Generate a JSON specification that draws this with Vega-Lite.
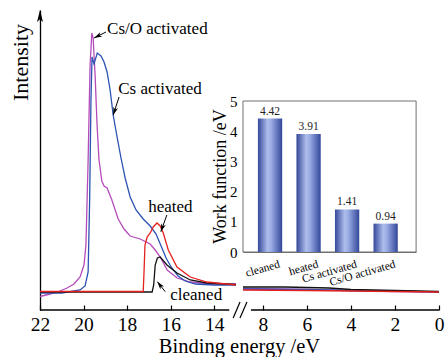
{
  "$schema": "https://vega.github.io/schema/vega-lite/v6.json",
  "width": 400,
  "height": 300,
  "autosize": {"type": "none"},
  "padding": {"left": 40, "top": 10, "right": 5, "bottom": 47},
  "background": "white",
  "config": {
    "view": {"stroke": null},
    "font": "Liberation Serif",
    "axis": {"grid": false, "titleFontWeight": "normal"}
  },
  "layer": [
    {
      "encoding": {
        "x": {
          "field": "E", "type": "quantitative",
          "scale": {"type": "linear", "domain": [22, 13, 8.9, 0], "range": [0, 196, 203, 399], "nice": false, "zero": false},
          "axis": {
            "values": [22, 20, 18, 16, 14, 8, 6, 4, 2, 0], "format": "d",
            "domain": false, "tickSize": -5, "tickColor": "black", "tickWidth": 1.2,
            "labelFontSize": 19.5, "labelColor": "black", "labelPadding": 25, "labelBaseline": "alphabetic",
            "labelFlush": false, "labelOverlap": false,
            "title": "Binding energy /eV", "titleFontSize": 20.5, "titleColor": "black",
            "titleX": 199, "titleY": 42, "titleBaseline": "alphabetic", "titleAlign": "center"
          }
        },
        "y": {
          "field": "I", "type": "quantitative",
          "scale": {"domain": [0, 300], "nice": false, "zero": false},
          "axis": {
            "domain": true, "domainColor": "black", "domainWidth": 1.3, "ticks": false, "labels": false,
            "title": "Intensity", "titleFontSize": 22, "titleColor": "black",
            "titleX": -19.5, "titleY": 52, "titleBaseline": "middle", "titleAlign": "center"
          }
        }
      },
      "layer": [
        {
          "data": {"values": [{"E": 8.9, "E2": 1.04, "I": 58, "I2": 209}]},
          "mark": {"type": "rect", "fill": "white", "stroke": "#707070", "strokeWidth": 1},
          "encoding": {"x2": {"field": "E2"}, "y2": {"field": "I2"}}
        },
        {
          "data": {"values": [
            {"s": "Cs/O activated", "seg": "a", "E": 22.0, "I": 13.5},
            {"s": "Cs/O activated", "seg": "a", "E": 21.54, "I": 16},
            {"s": "Cs/O activated", "seg": "a", "E": 21.08, "I": 19},
            {"s": "Cs/O activated", "seg": "a", "E": 20.76, "I": 22},
            {"s": "Cs/O activated", "seg": "a", "E": 20.44, "I": 26},
            {"s": "Cs/O activated", "seg": "a", "E": 20.16, "I": 33},
            {"s": "Cs/O activated", "seg": "a", "E": 19.98, "I": 45},
            {"s": "Cs/O activated", "seg": "a", "E": 19.89, "I": 65},
            {"s": "Cs/O activated", "seg": "a", "E": 19.79, "I": 150},
            {"s": "Cs/O activated", "seg": "a", "E": 19.70, "I": 245},
            {"s": "Cs/O activated", "seg": "a", "E": 19.62, "I": 277},
            {"s": "Cs/O activated", "seg": "a", "E": 19.56, "I": 272},
            {"s": "Cs/O activated", "seg": "a", "E": 19.47, "I": 235},
            {"s": "Cs/O activated", "seg": "a", "E": 19.38, "I": 185},
            {"s": "Cs/O activated", "seg": "a", "E": 19.29, "I": 150},
            {"s": "Cs/O activated", "seg": "a", "E": 19.16, "I": 129},
            {"s": "Cs/O activated", "seg": "a", "E": 19.06, "I": 124},
            {"s": "Cs/O activated", "seg": "a", "E": 18.92, "I": 122},
            {"s": "Cs/O activated", "seg": "a", "E": 18.70, "I": 110},
            {"s": "Cs/O activated", "seg": "a", "E": 18.41, "I": 91},
            {"s": "Cs/O activated", "seg": "a", "E": 18.14, "I": 81},
            {"s": "Cs/O activated", "seg": "a", "E": 17.86, "I": 74},
            {"s": "Cs/O activated", "seg": "a", "E": 17.40, "I": 71},
            {"s": "Cs/O activated", "seg": "a", "E": 16.94, "I": 66},
            {"s": "Cs/O activated", "seg": "a", "E": 16.71, "I": 60},
            {"s": "Cs/O activated", "seg": "a", "E": 16.48, "I": 53},
            {"s": "Cs/O activated", "seg": "a", "E": 16.16, "I": 40},
            {"s": "Cs/O activated", "seg": "a", "E": 15.70, "I": 32},
            {"s": "Cs/O activated", "seg": "a", "E": 15.10, "I": 28},
            {"s": "Cs/O activated", "seg": "a", "E": 14.18, "I": 26},
            {"s": "Cs/O activated", "seg": "a", "E": 13.0, "I": 26},
            {"s": "Cs/O activated", "seg": "b", "E": 8.9, "I": 21.5},
            {"s": "Cs/O activated", "seg": "b", "E": 6, "I": 20.5},
            {"s": "Cs/O activated", "seg": "b", "E": 4, "I": 19.5},
            {"s": "Cs/O activated", "seg": "b", "E": 2, "I": 18.5},
            {"s": "Cs/O activated", "seg": "b", "E": 0, "I": 18},

            {"s": "Cs activated", "seg": "a", "E": 22.0, "I": 17},
            {"s": "Cs activated", "seg": "a", "E": 21.0, "I": 17},
            {"s": "Cs activated", "seg": "a", "E": 20.16, "I": 20},
            {"s": "Cs activated", "seg": "a", "E": 19.93, "I": 24},
            {"s": "Cs activated", "seg": "a", "E": 19.79, "I": 38},
            {"s": "Cs activated", "seg": "a", "E": 19.72, "I": 110},
            {"s": "Cs activated", "seg": "a", "E": 19.66, "I": 210},
            {"s": "Cs activated", "seg": "a", "E": 19.61, "I": 253},
            {"s": "Cs activated", "seg": "a", "E": 19.52, "I": 246},
            {"s": "Cs activated", "seg": "a", "E": 19.37, "I": 257},
            {"s": "Cs activated", "seg": "a", "E": 19.20, "I": 254},
            {"s": "Cs activated", "seg": "a", "E": 19.06, "I": 248},
            {"s": "Cs activated", "seg": "a", "E": 18.92, "I": 238},
            {"s": "Cs activated", "seg": "a", "E": 18.78, "I": 220},
            {"s": "Cs activated", "seg": "a", "E": 18.64, "I": 195},
            {"s": "Cs activated", "seg": "a", "E": 18.46, "I": 173},
            {"s": "Cs activated", "seg": "a", "E": 18.28, "I": 152},
            {"s": "Cs activated", "seg": "a", "E": 18.09, "I": 132},
            {"s": "Cs activated", "seg": "a", "E": 17.86, "I": 113},
            {"s": "Cs activated", "seg": "a", "E": 17.59, "I": 100},
            {"s": "Cs activated", "seg": "a", "E": 17.26, "I": 91},
            {"s": "Cs activated", "seg": "a", "E": 16.94, "I": 84},
            {"s": "Cs activated", "seg": "a", "E": 16.67, "I": 76},
            {"s": "Cs activated", "seg": "a", "E": 16.44, "I": 64},
            {"s": "Cs activated", "seg": "a", "E": 16.21, "I": 52},
            {"s": "Cs activated", "seg": "a", "E": 15.98, "I": 43},
            {"s": "Cs activated", "seg": "a", "E": 15.66, "I": 34},
            {"s": "Cs activated", "seg": "a", "E": 15.33, "I": 29},
            {"s": "Cs activated", "seg": "a", "E": 14.87, "I": 26},
            {"s": "Cs activated", "seg": "a", "E": 14.0, "I": 25},
            {"s": "Cs activated", "seg": "a", "E": 13.0, "I": 25},
            {"s": "Cs activated", "seg": "b", "E": 8.9, "I": 21},
            {"s": "Cs activated", "seg": "b", "E": 6, "I": 20.5},
            {"s": "Cs activated", "seg": "b", "E": 4, "I": 19.5},
            {"s": "Cs activated", "seg": "b", "E": 2, "I": 19},
            {"s": "Cs activated", "seg": "b", "E": 0, "I": 18},

            {"s": "cleaned", "seg": "a", "E": 22.0, "I": 18},
            {"s": "cleaned", "seg": "a", "E": 16.85, "I": 18},
            {"s": "cleaned", "seg": "a", "E": 16.78, "I": 25},
            {"s": "cleaned", "seg": "a", "E": 16.71, "I": 45},
            {"s": "cleaned", "seg": "a", "E": 16.61, "I": 52},
            {"s": "cleaned", "seg": "a", "E": 16.48, "I": 53},
            {"s": "cleaned", "seg": "a", "E": 16.17, "I": 45},
            {"s": "cleaned", "seg": "a", "E": 15.71, "I": 37},
            {"s": "cleaned", "seg": "a", "E": 15.10, "I": 30},
            {"s": "cleaned", "seg": "a", "E": 14.34, "I": 27},
            {"s": "cleaned", "seg": "a", "E": 13.0, "I": 25.5},
            {"s": "cleaned", "seg": "b", "E": 8.9, "I": 23},
            {"s": "cleaned", "seg": "b", "E": 7, "I": 23},
            {"s": "cleaned", "seg": "b", "E": 5, "I": 22},
            {"s": "cleaned", "seg": "b", "E": 4, "I": 20.5},
            {"s": "cleaned", "seg": "b", "E": 2, "I": 19.5},
            {"s": "cleaned", "seg": "b", "E": 0, "I": 18.5},

            {"s": "heated", "seg": "a", "E": 22.0, "I": 18.5},
            {"s": "heated", "seg": "a", "E": 17.26, "I": 18.5},
            {"s": "heated", "seg": "a", "E": 17.22, "I": 40},
            {"s": "heated", "seg": "a", "E": 17.18, "I": 65},
            {"s": "heated", "seg": "a", "E": 17.08, "I": 73},
            {"s": "heated", "seg": "a", "E": 16.94, "I": 77},
            {"s": "heated", "seg": "a", "E": 16.80, "I": 83},
            {"s": "heated", "seg": "a", "E": 16.63, "I": 87},
            {"s": "heated", "seg": "a", "E": 16.48, "I": 84},
            {"s": "heated", "seg": "a", "E": 16.34, "I": 77},
            {"s": "heated", "seg": "a", "E": 16.11, "I": 60},
            {"s": "heated", "seg": "a", "E": 15.71, "I": 43},
            {"s": "heated", "seg": "a", "E": 15.10, "I": 33},
            {"s": "heated", "seg": "a", "E": 14.34, "I": 28},
            {"s": "heated", "seg": "a", "E": 13.0, "I": 25},
            {"s": "heated", "seg": "b", "E": 8.9, "I": 20},
            {"s": "heated", "seg": "b", "E": 6, "I": 19.5},
            {"s": "heated", "seg": "b", "E": 4, "I": 19},
            {"s": "heated", "seg": "b", "E": 2, "I": 18.5},
            {"s": "heated", "seg": "b", "E": 0, "I": 18}
          ]},
          "mark": {"type": "line", "strokeWidth": 1.3},
          "encoding": {
            "color": {
              "field": "s", "type": "nominal", "legend": null,
              "scale": {"domain": ["Cs/O activated", "Cs activated", "cleaned", "heated"], "range": ["#b54cbb", "#2c52b2", "#111111", "#e3211f"]}
            },
            "detail": {"field": "seg"},
            "order": {"field": "E", "sort": "descending"}
          }
        },
        {
          "data": {"values": [{"E": 22, "E2": 13.31, "I": 0}, {"E": 8.54, "E2": 0, "I": 0}]},
          "mark": {"type": "rule", "color": "black", "strokeWidth": 1.3},
          "encoding": {"x2": {"field": "E2"}}
        },
        {
          "data": {"values": [{"E": 13.13, "E2": 10.66, "I": -8, "I2": 8}, {"E": 10.66, "E2": 8.72, "I": -8, "I2": 8}]},
          "mark": {"type": "rule", "color": "black", "strokeWidth": 1.2},
          "encoding": {"x2": {"field": "E2"}, "y2": {"field": "I2"}}
        },
        {
          "data": {"values": [{"E": 22, "I": 294}]},
          "mark": {"type": "point", "shape": "M0,-1L0.5,1L0,0.55L-0.5,1Z", "size": 144, "filled": true, "color": "black", "opacity": 1}
        },
        {
          "data": {"values": [
            {"E": 18.92, "I": 281, "label": "Cs/O activated"},
            {"E": 18.41, "I": 221, "label": "Cs activated"},
            {"E": 17.03, "I": 103, "label": "heated"},
            {"E": 16.02, "I": 15, "label": "cleaned"}
          ]},
          "mark": {"type": "text", "align": "left", "baseline": "middle", "fontSize": 17, "color": "black"},
          "encoding": {"text": {"field": "label"}}
        },
        {
          "data": {"values": [
            {"E": 18.97, "I": 278, "E2": 19.52, "I2": 272},
            {"E": 18.37, "I": 213, "E2": 18.64, "I2": 195},
            {"E": 16.175, "I": 95, "E2": 16.45, "I2": 78.3},
            {"E": 16.25, "I": 18.3, "E2": 16.607, "I2": 28.3}
          ]},
          "mark": {"type": "rule", "color": "black", "strokeWidth": 1},
          "encoding": {"x2": {"field": "E2"}, "y2": {"field": "I2"}}
        },
        {
          "data": {"values": [{"E": 19.35, "I": 273.8}]},
          "mark": {"type": "point", "shape": "M0,-1L0.6,1L0,0.45L-0.6,1Z", "size": 64, "filled": true, "color": "black", "opacity": 1, "angle": 243}
        },
        {
          "data": {"values": [{"E": 18.58, "I": 198.8}]},
          "mark": {"type": "point", "shape": "M0,-1L0.6,1L0,0.45L-0.6,1Z", "size": 64, "filled": true, "color": "black", "opacity": 1, "angle": 198}
        },
        {
          "data": {"values": [{"E": 16.39, "I": 82.1}]},
          "mark": {"type": "point", "shape": "M0,-1L0.6,1L0,0.45L-0.6,1Z", "size": 64, "filled": true, "color": "black", "opacity": 1, "angle": 200}
        },
        {
          "data": {"values": [{"E": 16.50, "I": 25.1}]},
          "mark": {"type": "point", "shape": "M0,-1L0.6,1L0,0.45L-0.6,1Z", "size": 64, "filled": true, "color": "black", "opacity": 1, "angle": 322}
        }
      ]
    },
    {
      "data": {"values": [
        {"cat": "cleaned", "wf": 4.42},
        {"cat": "heated", "wf": 3.91},
        {"cat": "Cs activated", "wf": 1.41},
        {"cat": "Cs/O activated", "wf": 0.94}
      ]},
      "encoding": {
        "x": {
          "field": "cat", "type": "nominal", "sort": null,
          "scale": {"type": "band", "range": [203, 376], "paddingInner": 0.37, "paddingOuter": 0.43, "align": 0.45},
          "axis": {
            "orient": "bottom", "offset": -58, "title": null, "ticks": false,
            "domainColor": "#707070", "labelAngle": -16, "labelAlign": "right", "labelBaseline": "top",
            "labelPadding": 6, "labelOffset": 8, "labelFontSize": 11.5, "labelColor": "black"
          }
        },
        "y": {
          "field": "wf", "type": "quantitative",
          "scale": {"domain": [0, 5], "range": [242, 91], "nice": false, "zero": true},
          "axis": {
            "orient": "left", "offset": -203, "values": [0, 1, 2, 3, 4, 5],
            "tickSize": -4, "tickColor": "#707070", "domainColor": "#707070",
            "labelFontSize": 15, "labelPadding": 10, "labelColor": "black",
            "title": "Work function /eV", "titleFontSize": 18, "titleColor": "black",
            "titleX": -23, "titleY": 166, "titleBaseline": "middle", "titleAlign": "center"
          }
        }
      },
      "layer": [
        {
          "mark": {
            "type": "bar",
            "color": {
              "gradient": "linear", "x1": 0, "y1": 0, "x2": 1, "y2": 0,
              "stops": [
                {"offset": 0, "color": "#34489a"},
                {"offset": 0.4, "color": "#aebdec"},
                {"offset": 0.55, "color": "#9aace4"},
                {"offset": 1, "color": "#33479a"}
              ]
            }
          }
        },
        {
          "mark": {"type": "text", "dy": -2, "baseline": "bottom", "fontSize": 11.5, "color": "#222222"},
          "encoding": {"text": {"field": "wf", "format": ".2f"}}
        }
      ]
    }
  ],
  "resolve": {
    "scale": {"x": "independent", "y": "independent"},
    "axis": {"x": "independent", "y": "independent"}
  }
}
